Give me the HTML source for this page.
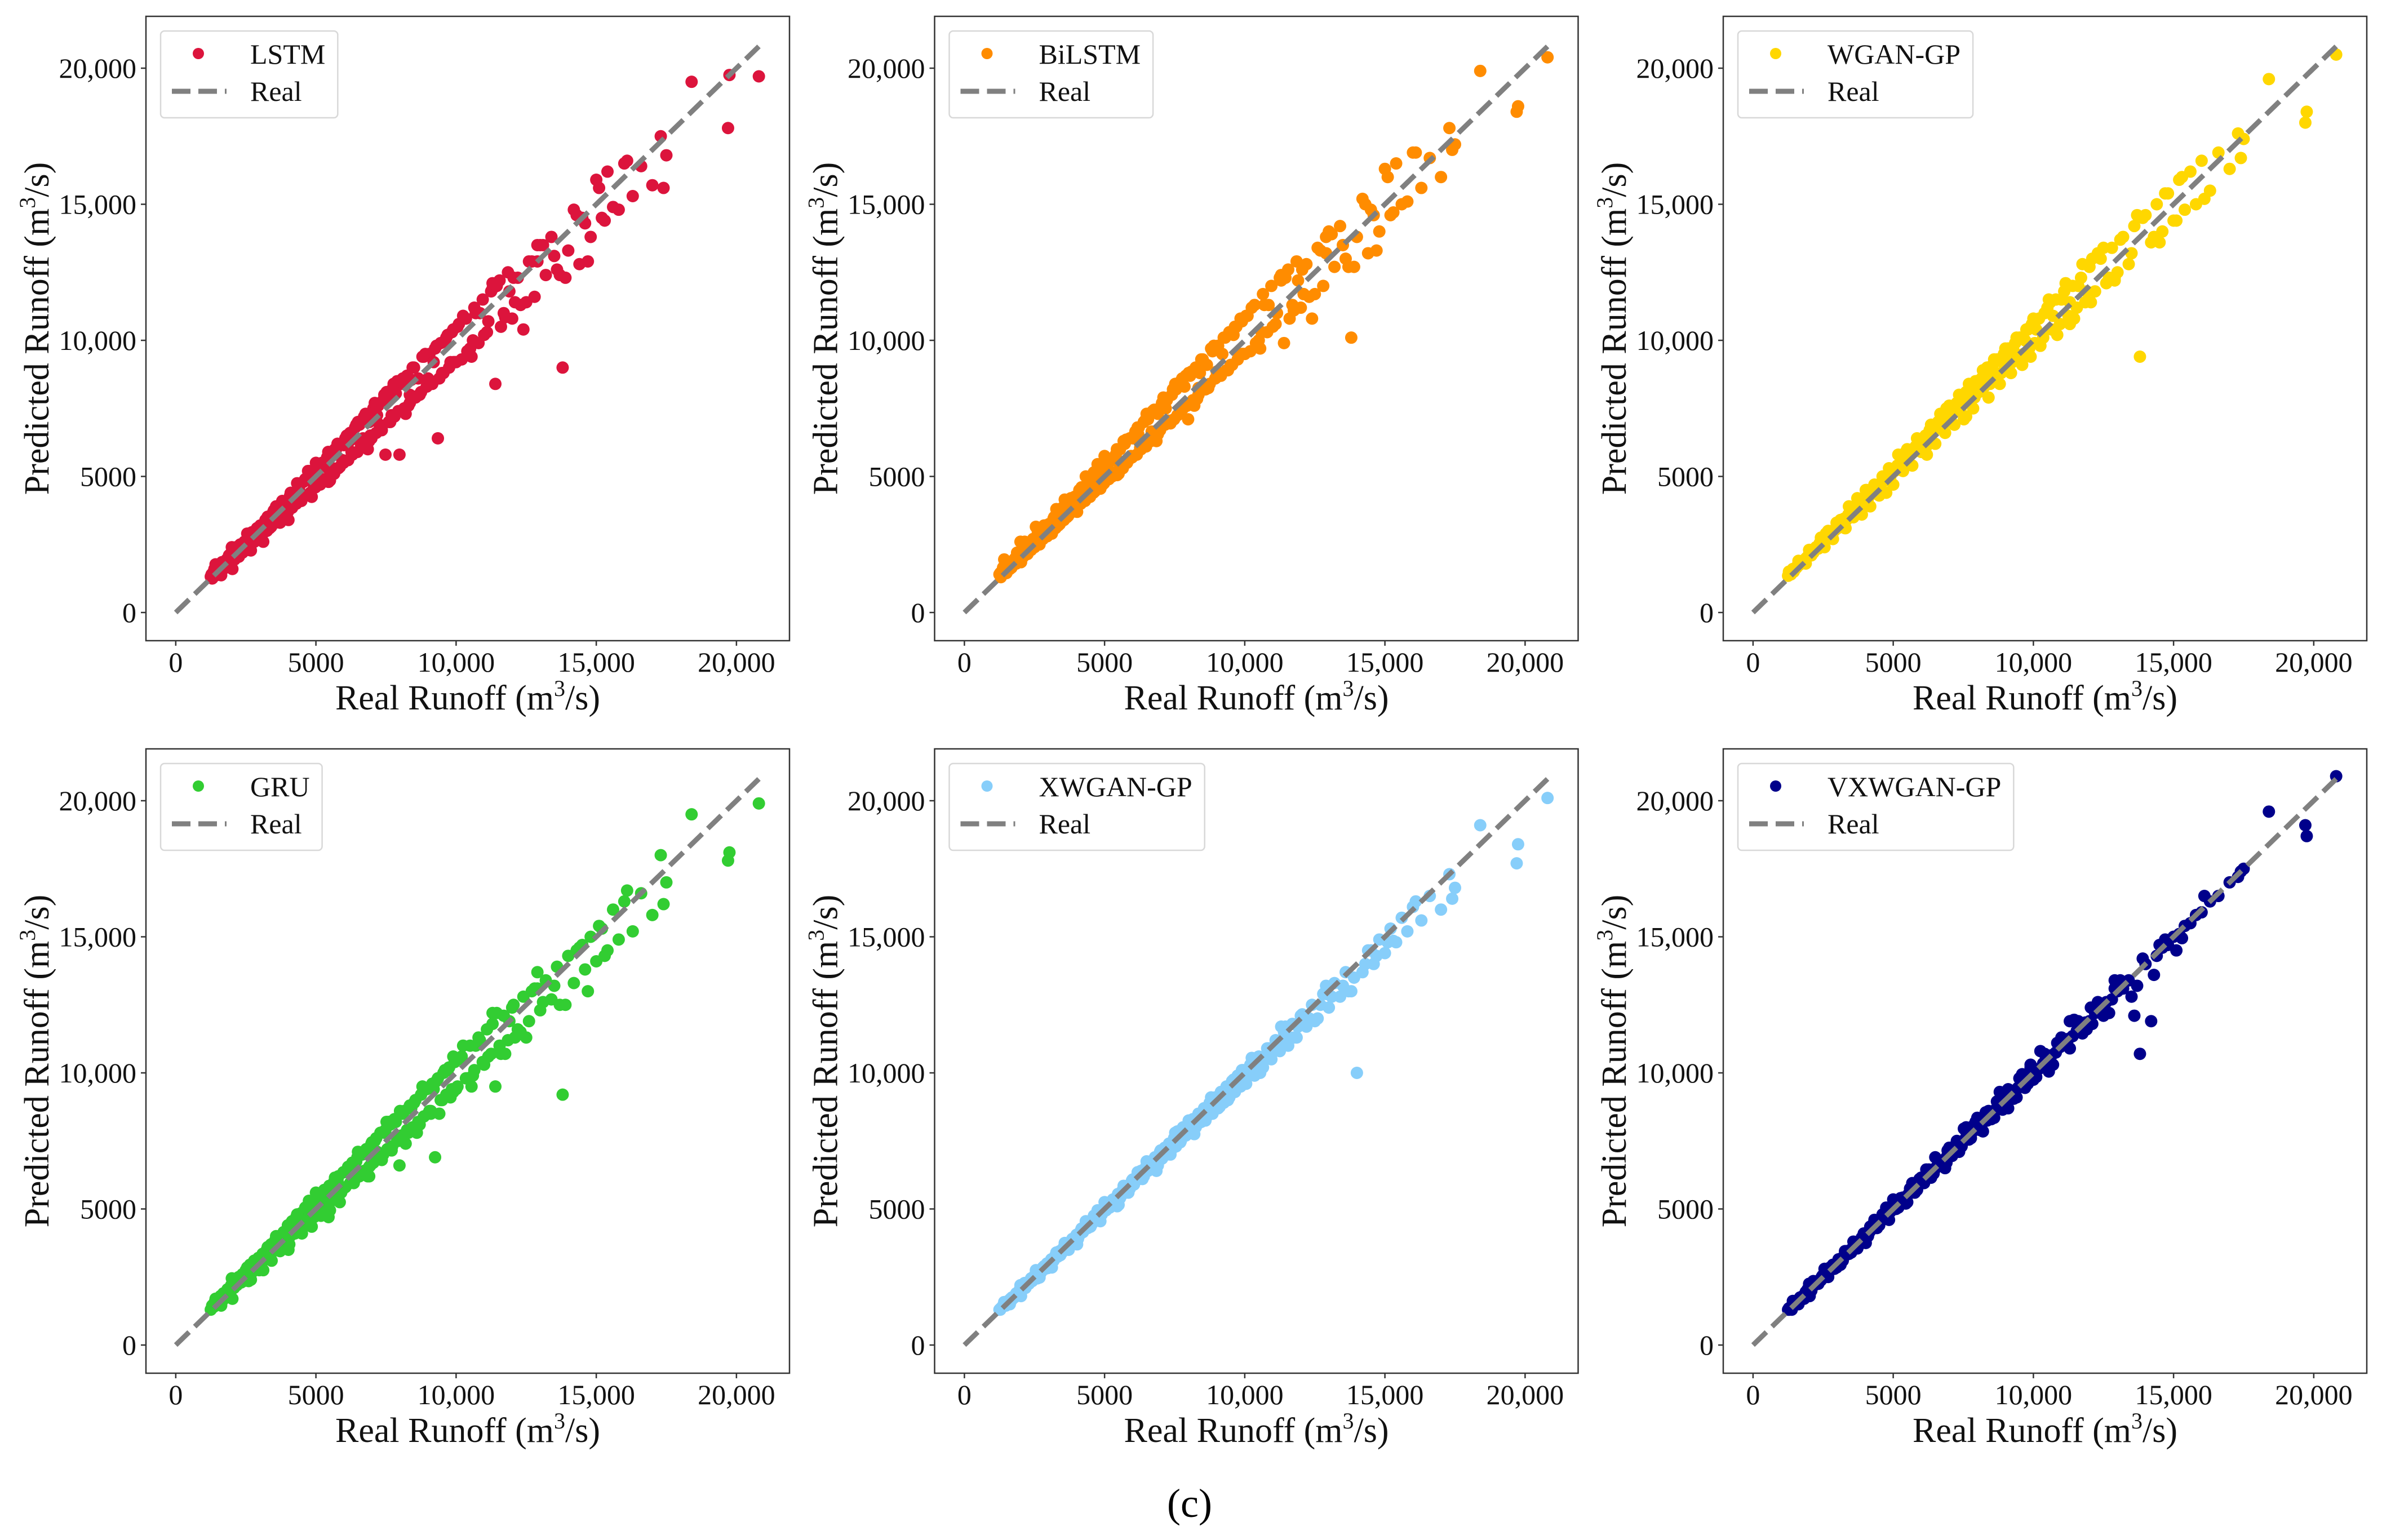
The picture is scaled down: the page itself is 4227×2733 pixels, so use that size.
<!DOCTYPE html>
<html><head><meta charset="utf-8"><style>
html,body{margin:0;padding:0;background:#fff;}
svg{display:block;font-family:"Liberation Serif",serif;}
</style></head><body>
<svg id="fig" width="4227" height="2733" viewBox="0 0 4227 2733" xmlns="http://www.w3.org/2000/svg">
<rect width="4227" height="2733" fill="#fff"/>
<text x="2111" y="2692" font-size="72" text-anchor="middle">(c)</text>
</svg>
<script>
// Data in thousands of m3/s
const realRunoff = [
1.25,1.3,1.35,1.4,1.45,1.5,1.55,1.6,1.65,1.7,
1.78,1.85,1.9,1.98,2.05,2.1,2.18,2.25,2.3,2.38,
2.45,2.5,2.58,2.65,2.72,2.8,2.88,2.95,3.02,3.1,
3.18,3.25,3.33,3.4,3.48,3.55,3.63,3.7,3.78,3.85,
3.93,4.0,4.08,4.15,4.23,4.3,4.4,4.48,4.55,4.65,
4.72,4.8,4.9,4.98,5.05,5.15,5.22,5.3,5.4,5.48,
5.55,5.65,5.72,5.8,5.9,5.98,6.05,6.15,6.22,6.3,
6.4,6.48,6.55,6.65,6.72,6.8,6.9,6.98,7.05,7.15,
7.22,7.3,7.4,7.48,7.55,7.65,7.72,7.8,7.9,7.98,
8.05,8.15,8.25,8.35,8.45,8.55,8.65,8.75,8.85,8.95,
9.05,9.15,9.25,9.35,9.45,9.55,9.65,9.75,9.85,9.95,
10.05,10.2,10.35,10.5,10.65,10.8,10.95,11.1,11.25,11.4,
11.55,11.7,11.85,12.0,12.2,12.4,12.6,12.8,13.0,13.2,
13.4,13.6,13.8,14.0,14.2,14.4,14.6,14.8,15.0,15.2,
15.4,15.6,15.8,16.0,16.3,16.6,17.0,17.3,17.4,17.5,
18.4,19.7,19.75,20.8,
1.28,1.38,1.48,1.58,1.68,1.82,1.95,2.08,2.2,2.33,
2.48,2.62,2.75,2.9,3.05,3.2,3.35,3.5,3.65,3.8,
3.95,4.1,4.25,4.42,4.6,4.76,4.93,5.1,5.27,5.44,
5.6,5.77,5.94,6.1,6.27,6.44,6.6,6.77,6.94,7.1,
7.27,7.44,7.6,7.77,7.94,8.1,8.3,8.5,8.7,8.9,
9.1,9.3,9.5,9.7,9.9,10.1,10.4,10.7,11.0,11.3,
11.6,11.9,12.3,12.7,13.1,13.5,13.9,14.3,14.7,15.1,
1.42,1.62,1.88,2.02,2.15,2.42,2.55,2.68,2.85,2.98,
3.12,3.28,3.42,3.58,3.72,3.88,4.02,4.18,4.33,4.5,
4.62,4.85,5.0,5.18,5.35,5.5,5.68,5.85,6.0,6.18,
6.35,6.5,6.68,6.85,7.0,7.18,7.35,7.52,7.7,7.85,
8.0,8.2,8.4,8.6,8.8,9.0,9.2,9.4,9.6,9.8,
10.0,10.25,10.55,10.85,11.15,11.45,11.75,12.05,12.5,12.9,
2.0,2.6,3.3,4.05,4.75,5.45,6.2,6.9,7.6,8.35,
9.1,9.9,10.6,11.3,12.1,12.9,13.7,14.5,15.3,16.1];

const lstmPred = [
1.32,1.25,1.5,1.35,1.62,1.4,1.7,1.52,1.85,1.6,
1.9,1.7,2.1,1.85,2.3,1.95,2.35,2.05,2.5,2.2,
2.6,2.3,2.75,2.45,2.95,2.6,3.05,2.7,3.2,2.9,
3.3,3.0,3.5,3.15,3.7,3.3,3.8,3.4,4.0,3.55,
4.1,3.7,4.3,3.85,4.4,4.0,4.6,4.1,4.8,4.3,
5.2,4.4,5.0,4.6,5.3,4.7,5.5,4.9,5.7,5.0,
5.8,5.1,6.0,5.3,6.2,5.5,6.4,5.6,6.6,5.8,
6.8,5.9,6.9,6.1,7.2,6.3,7.0,6.4,7.5,6.6,
7.6,6.7,7.8,5.8,7.9,7.0,8.2,7.2,8.5,5.8,
8.4,7.5,8.7,7.7,9.0,7.9,8.6,8.1,9.4,8.3,
9.5,8.4,9.7,6.4,9.9,8.8,10.1,9.0,10.3,9.2,
10.5,9.3,10.8,9.7,11.2,9.9,11.5,10.3,11.8,8.4,
12.2,11.0,12.5,10.8,12.3,10.4,12.9,11.6,13.5,12.4,
13.8,12.6,9.0,13.3,14.8,12.8,14.3,13.8,15.9,14.5,
16.2,14.9,14.8,16.5,15.3,16.4,15.7,17.5,15.6,16.8,
19.5,17.8,19.75,19.7,
1.4,1.6,1.45,1.75,1.6,1.95,2.15,2.0,2.4,2.2,
2.45,2.85,2.6,3.1,2.85,3.4,3.1,3.75,3.4,4.1,
3.8,4.4,4.05,4.7,4.3,5.05,4.6,5.4,4.9,5.9,
5.3,6.2,5.6,6.5,5.9,6.9,6.2,7.3,6.5,7.7,
6.9,8.0,7.0,8.4,7.4,8.6,7.6,9.0,8.0,9.5,
8.5,9.8,8.8,10.2,9.2,10.6,9.6,11.0,10.2,11.9,
10.5,11.8,11.3,12.9,13.5,13.1,12.3,14.6,12.9,15.6,
1.77,1.37,1.96,1.6,2.4,2.28,2.9,2.28,2.98,2.68,
2.6,3.52,3.2,3.9,3.3,3.9,3.4,4.37,4.75,4.2,
4.9,4.25,5.5,4.9,5.35,4.85,6.0,5.35,6.15,6.55,
5.87,7.0,6.4,6.0,7.3,7.25,6.7,8.1,7.25,8.05,
8.5,7.3,8.55,7.95,9.4,8.6,9.2,8.6,9.95,9.2,
9.2,10.9,9.4,11.0,10.7,12.0,10.85,12.3,11.4,12.9,
2.4,2.3,3.5,3.8,5.2,4.8,6.3,6.3,8.1,8.0,
8.4,10.4,10.0,12.1,11.4,13.5,12.4,14.5,14.4,16.6];

const bilstmPred = [
1.4,1.3,1.45,1.5,1.55,1.45,1.75,1.6,1.8,1.7,
1.95,1.8,2.05,1.95,2.25,2.05,2.4,2.15,2.45,2.3,
2.7,2.4,2.7,2.55,2.9,2.7,3.1,2.8,3.25,3.0,
3.45,3.1,3.55,3.25,3.75,3.4,3.9,3.55,4.1,3.7,
4.25,3.85,4.35,4.0,4.55,4.1,4.75,4.25,4.9,4.45,
5.1,4.6,5.2,4.75,5.4,4.9,5.6,5.1,5.8,5.2,
6.0,5.3,6.2,5.5,6.4,5.7,6.5,5.8,6.8,6.0,
7.0,6.1,7.1,6.3,7.4,6.5,7.3,6.7,7.7,6.9,
7.8,7.0,8.0,7.1,8.2,7.3,8.5,7.5,8.7,7.1,
8.7,7.8,9.0,8.0,9.3,8.2,9.1,8.4,9.6,8.6,
9.8,8.7,10.1,8.9,10.3,9.1,10.5,9.3,10.8,9.5,
10.9,9.6,11.3,10.0,11.7,10.3,12.0,10.6,12.3,9.9,
12.6,11.3,12.9,11.2,12.8,10.8,13.4,12.0,14.0,12.7,
14.2,13.0,10.1,13.8,15.2,13.2,14.6,14.0,16.3,14.6,
16.5,15.0,15.1,16.9,15.6,16.7,16.0,17.8,17.0,17.2,
19.9,18.4,18.6,20.4,
1.45,1.65,1.5,1.8,1.65,2.0,2.2,2.05,2.45,2.3,
2.55,2.95,2.7,3.2,2.95,3.5,3.2,3.85,3.5,4.2,
3.9,4.5,4.15,4.8,4.4,5.15,4.7,5.55,5.0,6.0,
5.45,6.35,5.75,6.65,6.05,7.05,6.35,7.45,6.7,7.9,
7.05,8.2,7.25,8.6,7.6,8.85,7.85,9.3,8.25,9.8,
8.8,10.1,9.1,10.5,9.5,10.9,9.9,11.3,10.5,12.2,
10.8,12.2,11.6,13.3,13.9,13.5,12.7,15.0,13.3,16.0,
1.95,1.6,2.2,1.85,2.6,2.5,3.15,2.5,3.2,2.95,
2.9,3.8,3.45,4.15,3.6,4.15,3.7,4.6,5.0,4.45,
5.15,4.55,5.75,5.2,5.6,5.1,6.3,5.6,6.4,6.8,
6.15,7.3,6.65,6.3,7.55,7.5,6.95,8.4,7.5,8.3,
8.8,7.6,8.8,8.2,9.7,8.85,9.5,8.9,10.2,9.5,
9.5,11.2,9.7,11.3,11.0,12.3,11.1,12.6,11.7,13.2,
2.6,2.55,3.75,4.05,5.45,5.05,6.55,6.55,8.35,8.25,
8.7,10.7,10.3,12.4,11.7,13.8,12.7,14.8,14.7,16.9];

const wganPred = [
1.35,1.4,1.4,1.55,1.5,1.6,1.65,1.75,1.75,1.85,
1.85,1.95,2.0,2.1,2.15,2.2,2.3,2.4,2.35,2.55,
2.55,2.65,2.65,2.8,2.8,2.95,3.0,3.1,3.1,3.3,
3.3,3.45,3.4,3.6,3.6,3.75,3.75,3.9,3.9,4.05,
4.0,4.2,4.2,4.4,4.35,4.5,4.6,4.7,4.7,4.9,
4.85,5.05,5.0,5.2,5.2,5.4,5.35,5.6,5.5,5.75,
5.7,5.9,5.9,6.1,6.1,6.3,6.2,6.5,6.4,6.7,
6.6,6.8,6.75,7.0,6.9,7.2,7.0,7.4,7.2,7.6,
7.4,7.7,7.5,7.9,7.7,8.1,7.8,8.3,7.9,8.5,
8.1,8.6,8.3,8.9,8.4,9.1,8.6,9.3,8.8,9.5,
9.0,9.6,9.2,9.9,9.4,10.1,9.5,10.4,9.7,10.6,
9.9,10.8,10.1,11.2,10.4,11.5,10.6,11.8,10.9,12.0,
11.2,12.3,11.4,12.7,11.8,13.0,12.1,13.4,12.5,13.8,
12.8,14.2,9.4,14.6,13.6,15.0,14.0,15.4,14.4,15.9,
14.8,16.2,15.0,16.6,15.5,16.9,16.3,17.6,16.7,17.4,
19.6,18.0,18.4,20.5,
1.5,1.55,1.6,1.7,1.8,1.85,2.05,2.1,2.3,2.35,
2.6,2.7,2.9,3.0,3.2,3.25,3.5,3.55,3.8,3.85,
4.1,4.2,4.45,4.5,4.8,4.9,5.2,5.25,5.5,5.6,
5.9,6.0,6.3,6.3,6.6,6.7,7.0,7.0,7.3,7.4,
7.7,7.7,8.1,8.1,8.5,8.5,8.9,8.8,9.3,9.2,
9.7,9.6,10.1,10.0,10.5,10.4,11.0,10.9,11.5,11.4,
12.0,11.8,13.2,12.3,13.7,13.2,14.5,13.8,15.4,14.4,
1.6,1.9,1.8,2.3,2.2,2.75,2.4,3.0,2.7,3.3,
3.4,3.1,3.9,3.5,4.2,3.6,4.5,3.9,4.7,4.3,
5.0,5.3,4.7,5.8,5.2,6.0,5.4,6.4,5.9,6.1,
6.9,6.2,7.3,6.6,7.6,6.9,8.0,7.1,8.4,7.5,
8.3,8.9,7.9,9.3,8.4,9.7,8.8,10.1,9.1,10.4,
10.8,9.8,11.5,10.2,12.1,10.8,12.8,11.4,13.4,12.3,
2.3,2.9,3.1,4.5,4.4,5.9,5.8,7.5,7.2,9.0,
9.7,9.4,11.4,10.6,13.0,12.2,14.6,13.6,16.0,15.2];

const gruPred = [
1.3,1.45,1.4,1.6,1.5,1.65,1.6,1.8,1.7,1.9,
1.85,2.05,1.95,2.2,2.1,2.35,2.2,2.5,2.3,2.6,
2.5,2.75,2.6,2.95,2.75,3.1,2.85,3.2,3.0,3.35,
3.2,3.5,3.3,3.7,3.45,3.85,3.6,4.0,3.75,4.15,
3.9,4.4,4.0,4.55,4.2,4.7,4.3,4.85,4.45,5.0,
4.55,5.2,4.7,5.3,4.9,5.5,5.0,5.7,5.2,5.85,
5.3,6.0,5.45,6.2,5.6,6.35,5.8,6.55,5.95,6.7,
6.1,6.9,6.2,7.0,6.4,7.2,6.55,7.4,6.7,7.6,
6.9,7.8,7.0,7.9,7.2,8.1,7.3,8.3,7.5,6.6,
7.7,8.6,7.9,8.8,8.0,9.0,8.2,9.2,8.4,9.4,
8.6,9.6,6.9,9.8,9.0,10.0,9.2,10.2,9.4,10.4,
9.5,10.6,9.8,11.0,10.1,11.3,10.4,11.6,10.7,9.5,
11.0,12.1,11.2,12.4,11.6,12.8,11.9,13.1,12.3,13.4,
12.7,13.9,9.2,14.3,13.3,14.6,13.8,15.0,14.1,15.3,
14.5,16.0,14.9,16.3,15.2,16.6,15.8,18.0,16.2,17.0,
19.5,17.8,18.1,19.9,
1.35,1.5,1.5,1.7,1.65,1.9,2.05,2.1,2.3,2.3,
2.5,2.75,2.7,3.0,2.95,3.3,3.2,3.6,3.5,3.95,
3.85,4.3,4.1,4.6,4.4,4.95,4.7,5.3,5.0,5.7,
5.35,6.05,5.7,6.4,6.0,6.75,6.3,7.1,6.6,7.5,
6.95,7.8,7.2,8.2,7.5,8.5,7.8,8.9,8.1,9.4,
8.6,9.7,9.0,10.1,9.3,10.5,9.8,11.0,10.3,11.8,
10.7,11.9,11.5,13.0,12.6,13.2,12.5,14.5,13.0,15.4,
1.7,1.45,2.05,1.7,2.35,2.35,2.85,2.4,3.05,2.75,
2.75,3.6,3.1,4.0,3.45,4.05,3.5,4.45,4.8,4.1,
5.05,4.35,5.6,4.75,5.5,4.95,6.15,5.25,6.35,6.45,
5.95,7.1,6.3,6.2,7.45,7.1,6.8,8.2,7.15,8.2,
8.6,7.4,8.7,7.8,9.5,8.5,9.4,8.5,10.1,9.1,
9.4,11.0,9.5,11.2,10.6,12.2,10.7,12.5,11.3,13.1,
2.45,2.35,3.6,3.7,5.3,4.7,6.4,6.2,8.2,7.9,
8.5,10.6,9.9,12.2,11.3,13.7,12.5,14.7,14.3,16.7];

const xwganPred = [
1.3,1.35,1.4,1.45,1.5,1.55,1.6,1.65,1.7,1.75,
1.75,1.9,1.85,2.05,2.0,2.15,2.1,2.3,2.25,2.45,
2.4,2.55,2.5,2.7,2.65,2.85,2.8,3.0,2.95,3.15,
3.1,3.3,3.25,3.45,3.4,3.6,3.55,3.75,3.7,3.9,
3.85,4.05,4.0,4.2,4.15,4.35,4.3,4.55,4.45,4.7,
4.6,4.85,4.8,5.05,4.95,5.2,5.1,5.35,5.3,5.55,
5.4,5.7,5.6,5.85,5.75,6.05,5.9,6.2,6.1,6.4,
6.2,6.55,6.4,6.75,6.55,6.9,6.7,7.1,6.85,7.25,
7.0,7.4,7.2,7.6,7.3,7.8,7.5,8.0,7.7,8.1,
7.8,8.3,8.0,8.5,8.2,8.7,8.4,8.9,8.5,9.1,
8.7,9.3,8.9,9.5,9.1,9.7,9.3,9.9,9.5,10.1,
9.6,10.3,9.9,10.6,10.2,10.9,10.5,11.2,10.8,11.5,
11.0,11.8,11.3,12.1,11.7,12.5,12.0,12.9,12.4,13.3,
12.8,13.7,13.0,10.0,13.7,14.5,14.0,14.9,14.4,15.3,
14.8,15.7,15.2,16.1,15.6,16.5,16.0,17.3,16.4,16.8,
19.1,17.7,18.4,20.1,
1.3,1.45,1.45,1.6,1.65,1.8,1.95,2.05,2.2,2.3,
2.45,2.6,2.7,2.85,3.0,3.15,3.3,3.45,3.6,3.75,
3.9,4.05,4.2,4.4,4.55,4.7,4.9,5.05,5.2,5.4,
5.5,5.7,5.85,6.05,6.2,6.4,6.5,6.7,6.85,7.05,
7.15,7.35,7.5,7.7,7.8,8.0,8.2,8.4,8.6,8.8,
8.95,9.2,9.35,9.6,9.75,10.0,10.2,10.5,10.8,11.1,
11.3,11.7,12.0,12.5,12.8,13.2,13.5,14.0,14.3,14.8,
1.58,1.5,1.9,1.8,2.28,2.35,2.75,2.48,2.9,2.83,
2.85,3.4,3.3,3.75,3.5,3.88,3.7,4.28,4.55,4.35,
4.75,4.55,5.25,5.05,5.35,5.15,5.85,5.6,6.08,6.35,
6.1,6.75,6.55,6.4,7.15,7.2,7.0,7.8,7.45,7.95,
8.25,7.75,8.45,8.25,9.1,8.8,9.2,9.0,9.75,9.5,
9.6,10.55,10.0,10.9,10.9,11.7,11.3,12.15,11.9,12.9,
2.2,2.45,3.4,3.9,4.95,5.1,6.25,6.6,7.85,8.15,
8.75,10.1,10.3,11.7,11.75,13.2,13.0,14.5,14.85,16.3];

const vxwganPred = [
1.3,1.3,1.4,1.4,1.5,1.5,1.6,1.6,1.7,1.7,
1.8,1.85,1.95,1.95,2.1,2.1,2.2,2.25,2.35,2.35,
2.5,2.5,2.6,2.65,2.75,2.8,2.9,2.95,3.05,3.1,
3.2,3.25,3.35,3.4,3.5,3.55,3.65,3.7,3.8,3.85,
3.95,4.0,4.1,4.15,4.25,4.3,4.4,4.5,4.55,4.65,
4.75,4.8,4.9,5.0,5.05,5.15,5.2,5.3,5.4,5.45,
5.55,5.6,5.75,5.8,5.9,5.95,6.05,6.1,6.25,6.3,
6.4,6.45,6.55,6.6,6.75,6.8,6.9,6.95,7.05,7.1,
7.25,7.3,7.4,7.45,7.55,7.6,7.75,7.8,7.9,7.95,
8.05,8.1,8.25,8.3,8.45,8.5,8.65,8.7,8.85,8.9,
9.05,9.1,9.25,9.3,9.45,9.5,9.65,9.7,9.85,9.9,
10.05,10.15,10.35,10.45,10.65,10.75,10.95,11.05,11.25,11.35,
11.55,11.65,11.85,11.9,12.2,12.3,12.6,12.7,13.0,13.1,
13.4,12.1,10.7,14.0,11.9,14.3,14.6,14.7,15.0,15.1,
15.4,15.5,15.8,15.9,16.3,16.5,17.0,17.2,17.4,17.5,
19.6,19.1,18.7,20.9,
1.35,1.3,1.55,1.5,1.75,1.7,2.05,2.0,2.3,2.25,
2.55,2.55,2.85,2.8,3.15,3.1,3.45,3.4,3.75,3.7,
4.1,4.0,4.4,4.3,4.7,4.65,5.05,5.0,5.4,5.3,
5.75,5.6,6.1,5.95,6.45,6.3,6.8,6.6,7.15,6.95,
7.5,7.3,7.85,7.6,8.2,7.9,8.55,8.3,8.95,8.65,
9.4,9.05,9.8,9.45,10.2,9.85,10.7,10.3,11.3,10.9,
11.9,11.6,12.6,12.2,13.4,12.8,14.2,13.6,14.9,14.5,
1.62,1.5,1.95,1.8,2.35,2.38,2.8,2.5,2.95,2.85,
2.95,3.45,3.35,3.8,3.55,3.95,3.75,4.35,4.6,4.4,
4.8,4.6,5.35,5.05,5.42,5.25,5.95,5.7,6.15,6.45,
6.15,6.9,6.6,6.5,7.25,7.3,7.1,7.95,7.55,8.05,
8.35,7.85,8.6,8.35,9.3,8.9,9.35,9.1,9.95,9.6,
9.75,10.8,10.05,11.1,11.05,11.95,11.45,12.4,12.1,13.1,
2.25,2.5,3.45,3.95,5.05,5.2,6.35,6.7,8.0,8.25,
8.7,10.3,10.35,11.9,11.8,13.4,13.2,14.7,14.95,16.5];

const modelNames = ["LSTM","BiLSTM","WGAN-GP","GRU","XWGAN-GP","VXWGAN-GP"];
const modelColors = ["#dc143c","#ff8c00","#ffd700","#32cd32","#87cefa","#00008b"];
const modelSeries = [lstmPred,bilstmPred,wganPred,gruPred,xwganPred,vxwganPred];
const tickValues = [0,5000,10000,15000,20000];
const tickLabels = ["0","5000","10,000","15,000","20,000"];
const refLine = [0,20800];

const NS = "http://www.w3.org/2000/svg";
const svg = document.getElementById('fig');
const W = 1142, H = 1108;
const XMIN = -1063, XMAX = 21892, YMIN = -1035, YMAX = 21905;
function mk(tag, attrs, parent){ const e=document.createElementNS(NS,tag); for(const k in attrs) e.setAttribute(k,attrs[k]); (parent||svg).appendChild(e); return e; }

modelNames.forEach((name, i) => {
  const col = i % 3, row = Math.floor(i / 3);
  const L = 259 + col * 1399.5, T = 29 + row * 1300;
  const sx = v => L + (v - XMIN) / (XMAX - XMIN) * W;
  const sy = v => T + H - (v - YMIN) / (YMAX - YMIN) * H;
  const g = mk('g', {});
  
  
  const clipId = 'clip' + i;
  const cp = mk('clipPath', {id: clipId}, g);
  mk('rect', {x: L, y: T, width: W, height: H}, cp);
  const pts = mk('g', {'clip-path': 'url(#' + clipId + ')'}, g);
  
  
  const pred = modelSeries[i];
  const n = Math.min(realRunoff.length, pred.length);
  for (let k = 0; k < n; k++) {
    const c = mk('circle', {cx: sx(realRunoff[k]*1000), cy: sy(pred[k]*1000), r: 11, fill: modelColors[i]}, pts);
    
    
  }
  const ln = mk('line', {x1: sx(refLine[0]), y1: sy(refLine[0]), x2: sx(refLine[1]), y2: sy(refLine[1]), stroke: '#808080', 'stroke-width': 9, 'stroke-dasharray': '33 14'}, g);
  
  
  const fr = mk('rect', {x: L, y: T, width: W, height: H, fill: 'none', stroke: '#333', 'stroke-width': 2.5}, g);
  
  
  tickValues.forEach((v, t) => {
    const x = sx(v), y = sy(v);
    mk('line', {x1: x, y1: T + H, x2: x, y2: T + H + 9, stroke: '#333', 'stroke-width': 2.5}, g);
    const xt = mk('text', {x: x, y: T + H + 55, 'font-size': 50, 'text-anchor': 'middle', fill: '#111'}, g);
    xt.textContent = tickLabels[t];
    
    
    mk('line', {x1: L - 9, y1: y, x2: L, y2: y, stroke: '#333', 'stroke-width': 2.5}, g);
    const yt = mk('text', {x: L - 17, y: y + 17, 'font-size': 50, 'text-anchor': 'end', fill: '#111'}, g);
    yt.textContent = tickLabels[t];
    
    
  });
  const xl = mk('text', {x: L + W/2, y: T + H + 122, 'font-size': 62, 'text-anchor': 'middle', fill: '#111'}, g);
  
  
  xl.innerHTML = 'Real Runoff (m<tspan dy="-24" font-size="40">3</tspan><tspan dy="24">/s)</tspan>';
  const cy = T + H/2, cx = L - 173;
  const yl = mk('text', {x: cx, y: cy, 'font-size': 62, 'text-anchor': 'middle', fill: '#111', transform: 'rotate(-90 ' + cx + ' ' + cy + ')'}, g);
  
  
  yl.innerHTML = 'Predicted Runoff (m<tspan dy="-24" font-size="40">3</tspan><tspan dy="24">/s)</tspan>';
  const lg = mk('g', {}, g);
  
  
  const box = mk('rect', {x: L + 26, y: T + 26, width: 300, height: 154, rx: 7, fill: '#fff', stroke: '#d8d8d8', 'stroke-width': 2.5}, lg);
  mk('circle', {cx: L + 93, cy: T + 66, r: 10, fill: modelColors[i]}, lg);
  const t1 = mk('text', {x: L + 185, y: T + 84, 'font-size': 50, fill: '#111'}, lg);
  t1.textContent = name;
  
  
  mk('line', {x1: L + 46, y1: T + 133, x2: L + 143, y2: T + 133, stroke: '#808080', 'stroke-width': 9, 'stroke-dasharray': '33 14'}, lg);
  const t2 = mk('text', {x: L + 185, y: T + 150, 'font-size': 50, fill: '#111'}, lg);
  t2.textContent = 'Real';
  
  
  const tw = Math.max(t1.getComputedTextLength(), t2.getComputedTextLength());
  box.setAttribute('width', 159 + tw + 22);
});
</script>
</body></html>
